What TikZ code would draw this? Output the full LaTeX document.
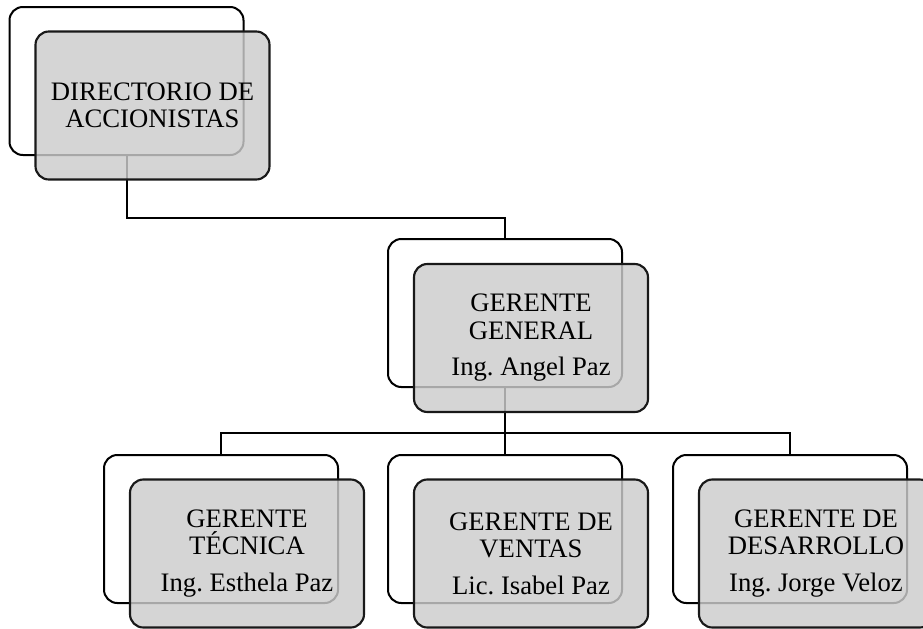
\documentclass[tikz,border=0pt]{standalone}
\usepackage{fontspec}
\setmainfont{Liberation Serif}
\usepackage{tikz}
\usetikzlibrary{positioning,calc}

\begin{document}
\begin{tikzpicture}[
    x=0.75pt, y=-0.75pt,
    back/.style={
        draw,
        line width=1.5pt,
        rounded corners=10pt,
        minimum width=175.5pt,
        minimum height=111pt
    },
    front/.style={
        draw=black!90,
        line width=1.6pt,
        rounded corners=10pt,
        fill=black!20,
        fill opacity=0.82,
        text opacity=1,
        minimum width=175.5pt,
        minimum height=111pt,
        align=center,
        font=\fontsize{20}{20.5}\selectfont\frenchspacing
    },
    link/.style={line width=1.5pt}
]
\useasboundingbox (0,0) rectangle (923,628);

% back boxes
\node[back] (dir0) at (126.5,81) {};
\node[back] (gg0) at (505,313) {};
\node[back] (tec0) at (221,529) {};
\node[back] (ven0) at (505,529) {};
\node[back] (des0) at (790,529) {};

% connectors
\coordinate (bus1) at (0,218);
\coordinate (bus2) at (0,433);
\draw[link] (dir0.south) -- (dir0.south |- bus1) -| (gg0.north);
\foreach \n in {tec0,ven0,des0}
    \draw[link] (gg0.south) -- (gg0.south |- bus2) -| (\n.north);

% front boxes
\node[front] (dir) at ($(dir0)+(26,24.5)$) {DIRECTORIO DE\\ACCIONISTAS};
\node[front] (gg) at ($(gg0)+(26,25)$) {GERENTE\\GENERAL\\[7pt]Ing. Angel Paz};
\node[front] (tec) at ($(tec0)+(26,24.5)$) {GERENTE\\TÉCNICA\\[7pt]Ing. Esthela Paz};
\node[front] (ven) at ($(ven0)+(26,24.5)$) {GERENTE DE\\VENTAS\\[7pt]Lic. Isabel Paz};
\node[front] (des) at ($(des0)+(26,24.5)$) {GERENTE DE\\DESARROLLO\\[7pt]Ing. Jorge Veloz};
\end{tikzpicture}
\end{document}
